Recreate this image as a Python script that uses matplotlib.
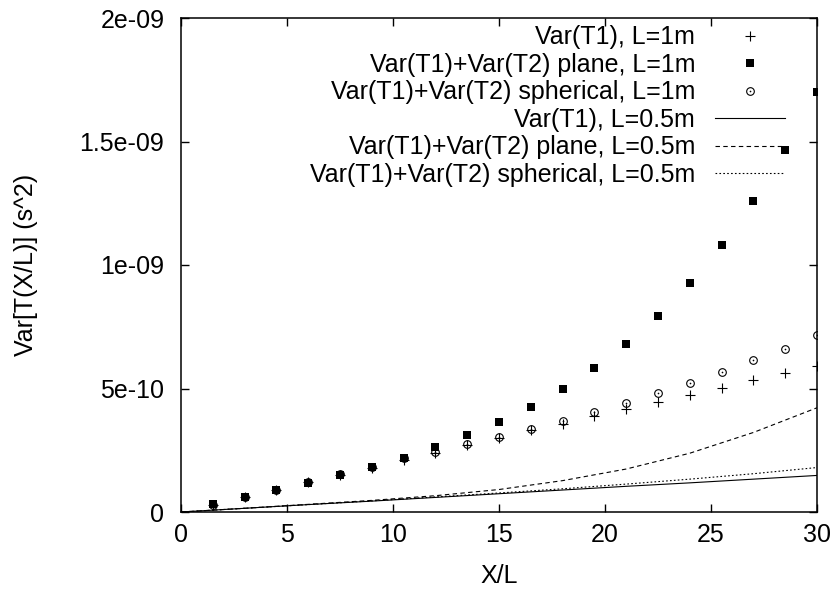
import matplotlib
matplotlib.use("Agg")
import matplotlib.pyplot as plt
from matplotlib.legend_handler import HandlerTuple
import numpy as np

plt.rcParams['font.family'] = ['Liberation Sans', 'DejaVu Sans']

# points, L=1m
x_pts = [1.5, 3, 4.5, 6, 7.5, 9, 10.5, 12, 13.5, 15, 16.5, 18, 19.5, 21, 22.5, 24, 25.5, 27, 28.5, 30]
t1_1m = [0.030, 0.060, 0.090, 0.120, 0.150, 0.180, 0.210, 0.240, 0.270, 0.299, 0.331, 0.357,
         0.387, 0.416, 0.445, 0.474, 0.504, 0.533, 0.561, 0.591]
plane_1m = [0.031, 0.060, 0.089, 0.119, 0.149, 0.184, 0.219, 0.264, 0.313, 0.364, 0.426, 0.499,
            0.584, 0.681, 0.795, 0.927, 1.081, 1.259, 1.466, 1.702]
sph_1m = [0.030, 0.060, 0.091, 0.122, 0.153, 0.184, 0.217, 0.244, 0.274, 0.305, 0.337, 0.370,
          0.406, 0.443, 0.483, 0.524, 0.567, 0.614, 0.661, 0.717]

# curves, L=0.5m
x_line = [0, 3, 6, 9, 12, 15, 18, 21, 24, 27, 30]
t1_05 = [0, 0.015, 0.030, 0.044, 0.059, 0.074, 0.089, 0.104, 0.118, 0.133, 0.148]
plane_05 = [0, 0.015, 0.031, 0.047, 0.066, 0.091, 0.127, 0.174, 0.238, 0.322, 0.422]
sph_05 = [0, 0.015, 0.030, 0.045, 0.061, 0.077, 0.094, 0.113, 0.133, 0.155, 0.180]

scale = 1e-9
yticks = [0, 5e-10, 1e-9, 1.5e-9, 2e-9]
ytick_labels = ['0', '5e-10', '1e-09', '1.5e-09', '2e-09']
xticks = [0, 5, 10, 15, 20, 25, 30]

fig = plt.figure(figsize=(8.34, 5.94), dpi=100)
ax = fig.add_axes([181/834, 1 - 512/594, (817-181)/834, (512-18)/594])

fs = 18
xp = np.array(x_pts)

h1, = ax.plot(xp, np.array(t1_1m)*scale, ls='none', marker='+', ms=6.5, mew=0.8, color='black')
h2, = ax.plot(xp, np.array(plane_1m)*scale, ls='none', marker='s', ms=6, mew=0, color='black')
h3a, = ax.plot(xp, np.array(sph_1m)*scale, ls='none', marker='o', ms=5.5, mew=0.8,
               mfc='none', color='black')
h3b, = ax.plot(xp, np.array(sph_1m)*scale, ls='none', marker='o', ms=1.2, mew=0, color='black')
h4, = ax.plot(x_line, np.array(t1_05)*scale, color='black', lw=0.8)
h5, = ax.plot(x_line, np.array(plane_05)*scale, color='black', lw=0.8, dashes=(4, 3))
h6, = ax.plot(x_line, np.array(sph_05)*scale, color='black', lw=0.8, dashes=(1.5, 2))

ax.set_xlim(0, 30)
ax.set_ylim(0, 2e-9)
ax.set_xticks(xticks)
ax.set_xticklabels([str(v) for v in xticks])
ax.set_yticks(yticks)
ax.set_yticklabels(ytick_labels)
ax.tick_params(direction='in', length=5.5, width=1, top=True, right=True, labelsize=fs)
ax.tick_params(axis='y', pad=12)
ax.tick_params(axis='x', pad=8)
for s in ax.spines.values():
    s.set_linewidth(1.1)

ax.set_xlabel('X/L', fontsize=fs, labelpad=12)
ax.set_ylabel('Var[T(X/L)] (s^2)', fontsize=fs, labelpad=30)

labels = ['Var(T1), L=1m', 'Var(T1)+Var(T2) plane, L=1m', 'Var(T1)+Var(T2) spherical, L=1m',
          'Var(T1), L=0.5m', 'Var(T1)+Var(T2) plane, L=0.5m', 'Var(T1)+Var(T2) spherical, L=0.5m']
leg = ax.legend([h1, h2, (h3a, h3b), h4, h5, h6], labels,
                handler_map={tuple: HandlerTuple(ndivide=1, pad=0)},
                loc='upper right', bbox_to_anchor=(0.9497, 0.985),
                frameon=False, markerfirst=False, fontsize=fs,
                handlelength=2.8, handletextpad=0.8, labelspacing=0.14,
                borderaxespad=0, borderpad=0, numpoints=1)
for t in leg.get_texts():
    t.set_ha('right')

fig.savefig('out.png', dpi=100)
